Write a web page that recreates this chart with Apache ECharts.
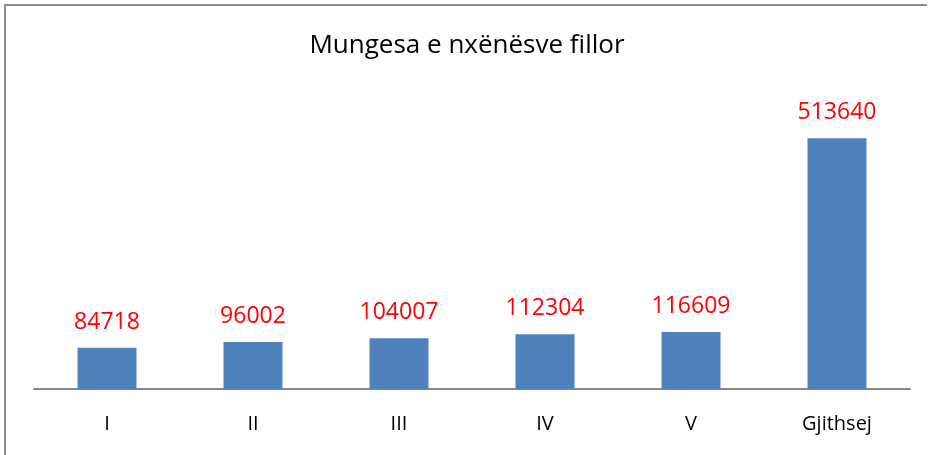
<!DOCTYPE html>
<html>
<head>
<meta charset="utf-8">
<script src="https://cdn.jsdelivr.net/npm/echarts@6/dist/echarts.min.js"></script>
<style>
  html, body { margin: 0; padding: 0; background: #fff; }
  #chart { width: 934px; height: 455px; }
</style>
</head>
<body>
<div id="chart"></div>
<script>
// Klasat dhe mungesat
const categories = ['I', 'II', 'III', 'IV', 'V', 'Gjithsej'];
const absences = [84718, 96002, 104007, 112304, 116609, 513640];

const chart = echarts.init(document.getElementById('chart'));

chart.setOption({
    animation: false,
    title: {
        text: 'Mungesa e nxënësve fillor',
        left: 'center',
        top: 28,
        textStyle: { fontFamily: 'Open Sans', fontSize: 26, fontWeight: 'normal', color: '#000' }
    },
    graphic: [
        // korniza e grafikut
        { type: 'line', shape: { x1: 5, y1: 4, x2: 5, y2: 455 }, style: { stroke: '#8c8c8c', lineWidth: 2 } },
        { type: 'line', shape: { x1: 4, y1: 5, x2: 927, y2: 5 }, style: { stroke: '#8c8c8c', lineWidth: 2 } }
    ],
    grid: { left: 34, right: 24, top: 96, bottom: 66 },
    xAxis: {
        type: 'category',
        data: categories,
        axisLine: { lineStyle: { color: '#888', width: 2 } },
        axisTick: { show: false },
        axisLabel: { color: '#000', fontFamily: 'Open Sans', fontSize: 20, margin: 25 }
    },
    yAxis: {
        type: 'value',
        min: 0,
        max: 600000,
        show: false,
        splitLine: { show: false }
    },
    series: [{
        type: 'bar',
        data: absences,
        barWidth: 59,
        itemStyle: { color: '#4f81bd' },
        label: {
            show: true,
            position: 'top',
            distance: 14,
            color: '#ff0000',
            fontFamily: 'Open Sans',
            fontSize: 23
        }
    }]
});
</script>
</body>
</html>
